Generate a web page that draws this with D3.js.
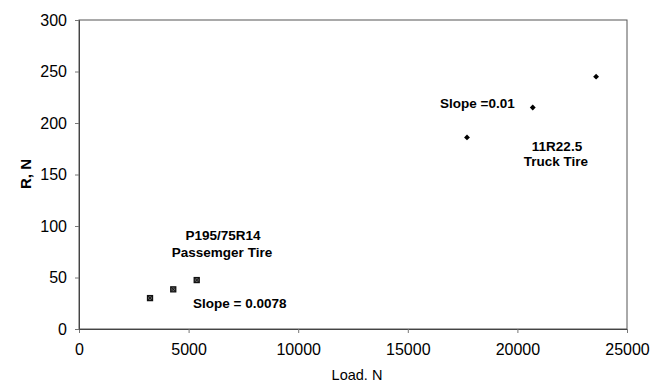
<!DOCTYPE html>
<html>
<head>
<meta charset="utf-8">
<script src="https://cdn.jsdelivr.net/npm/d3@7"></script>
<style>
  body { margin: 0; background: #fff; }
  text { font-family: "Liberation Sans", Arial, sans-serif; fill: #000; }
</style>
</head>
<body>
<script>
// passenger tire (P195/75R14)
var passLoad = [3240, 4300, 5370];
var passR = [30, 38.5, 47.5];
// truck tire (11R22.5)
var truckLoad = [17700, 20700, 23590];
var truckR = [186, 215, 245];

var xTicks = [0, 5000, 10000, 15000, 20000, 25000];
var yTicks = [0, 50, 100, 150, 200, 250, 300];

var W = 660, H = 385;
var m = { left: 79, right: 33, top: 20, bottom: 56 };

var svg = d3.select('body').append('svg')
  .attr('width', W)
  .attr('height', H);

var x = d3.scaleLinear().domain([0, 25000]).range([m.left, W - m.right]);
var y = d3.scaleLinear().domain([0, 300]).range([H - m.bottom, m.top]);

// frame
svg.append('rect')
  .attr('x', x(0)).attr('y', y(300))
  .attr('width', x(25000) - x(0)).attr('height', y(0) - y(300))
  .attr('fill', 'none').attr('stroke', '#555').attr('stroke-width', 1);

var xAxis = svg.append('g')
  .attr('transform', 'translate(0,' + y(0) + ')')
  .call(d3.axisBottom(x).tickValues(xTicks).tickSize(4).tickPadding(11).tickFormat(d3.format('d')));
var yAxis = svg.append('g')
  .attr('transform', 'translate(' + x(0) + ',0)')
  .call(d3.axisLeft(y).tickValues(yTicks).tickSize(4).tickPadding(8));

[xAxis, yAxis].forEach(function (a) {
  a.select('.domain').attr('stroke', '#444');
  a.selectAll('line').attr('stroke', '#777');
  a.selectAll('text').attr('font-size', 16).style('fill', '#000');
});

// axis titles
svg.append('text')
  .attr('x', (x(0) + x(25000)) / 2 + 4).attr('y', 376)
  .attr('text-anchor', 'middle').attr('dominant-baseline', 'middle')
  .attr('font-size', 14.5)
  .text('Load. N');
svg.append('text')
  .attr('transform', 'translate(27,' + 174 + ') rotate(-90)')
  .attr('text-anchor', 'middle').attr('dominant-baseline', 'middle')
  .attr('font-size', 15).attr('font-weight', 'bold')
  .text('R, N');

// passenger markers: small hatched squares
var pass = svg.append('g').selectAll('g')
  .data(passLoad.map(function (d, i) { return [d, passR[i]]; }))
  .enter().append('g')
  .attr('transform', function (d) { return 'translate(' + x(d[0]) + ',' + y(d[1]) + ')'; });
pass.append('rect')
  .attr('x', -2.5).attr('y', -2.5).attr('width', 5).attr('height', 5)
  .attr('fill', '#666').attr('stroke', '#111').attr('stroke-width', 1.3);
pass.append('path')
  .attr('d', 'M-2,-2L2,2M2,-2L-2,2')
  .attr('stroke', '#111').attr('stroke-width', 0.9);

// truck markers: small diamonds
svg.append('g').selectAll('path')
  .data(truckLoad.map(function (d, i) { return [d, truckR[i]]; }))
  .enter().append('path')
  .attr('d', d3.symbol().type(d3.symbolDiamond2).size(22))
  .attr('transform', function (d) { return 'translate(' + x(d[0]) + ',' + y(d[1]) + ')'; })
  .attr('fill', '#000');

// annotations
var notes = [
  { t: 'P195/75R14', x: 223, y: 236, a: 'middle' },
  { t: 'Passemger Tire', x: 222, y: 253, a: 'middle' },
  { t: 'Slope = 0.0078', x: 193, y: 304, a: 'start' },
  { t: 'Slope =0.01', x: 440, y: 104, a: 'start' },
  { t: '11R22.5', x: 557, y: 147, a: 'middle' },
  { t: 'Truck Tire', x: 556, y: 162, a: 'middle' }
];
svg.append('g').selectAll('text')
  .data(notes).enter().append('text')
  .attr('x', function (d) { return d.x; })
  .attr('y', function (d) { return d.y; })
  .attr('text-anchor', function (d) { return d.a; })
  .attr('dominant-baseline', 'middle')
  .attr('font-size', 13.5).attr('font-weight', 'bold')
  .text(function (d) { return d.t; });
</script>
</body>
</html>
